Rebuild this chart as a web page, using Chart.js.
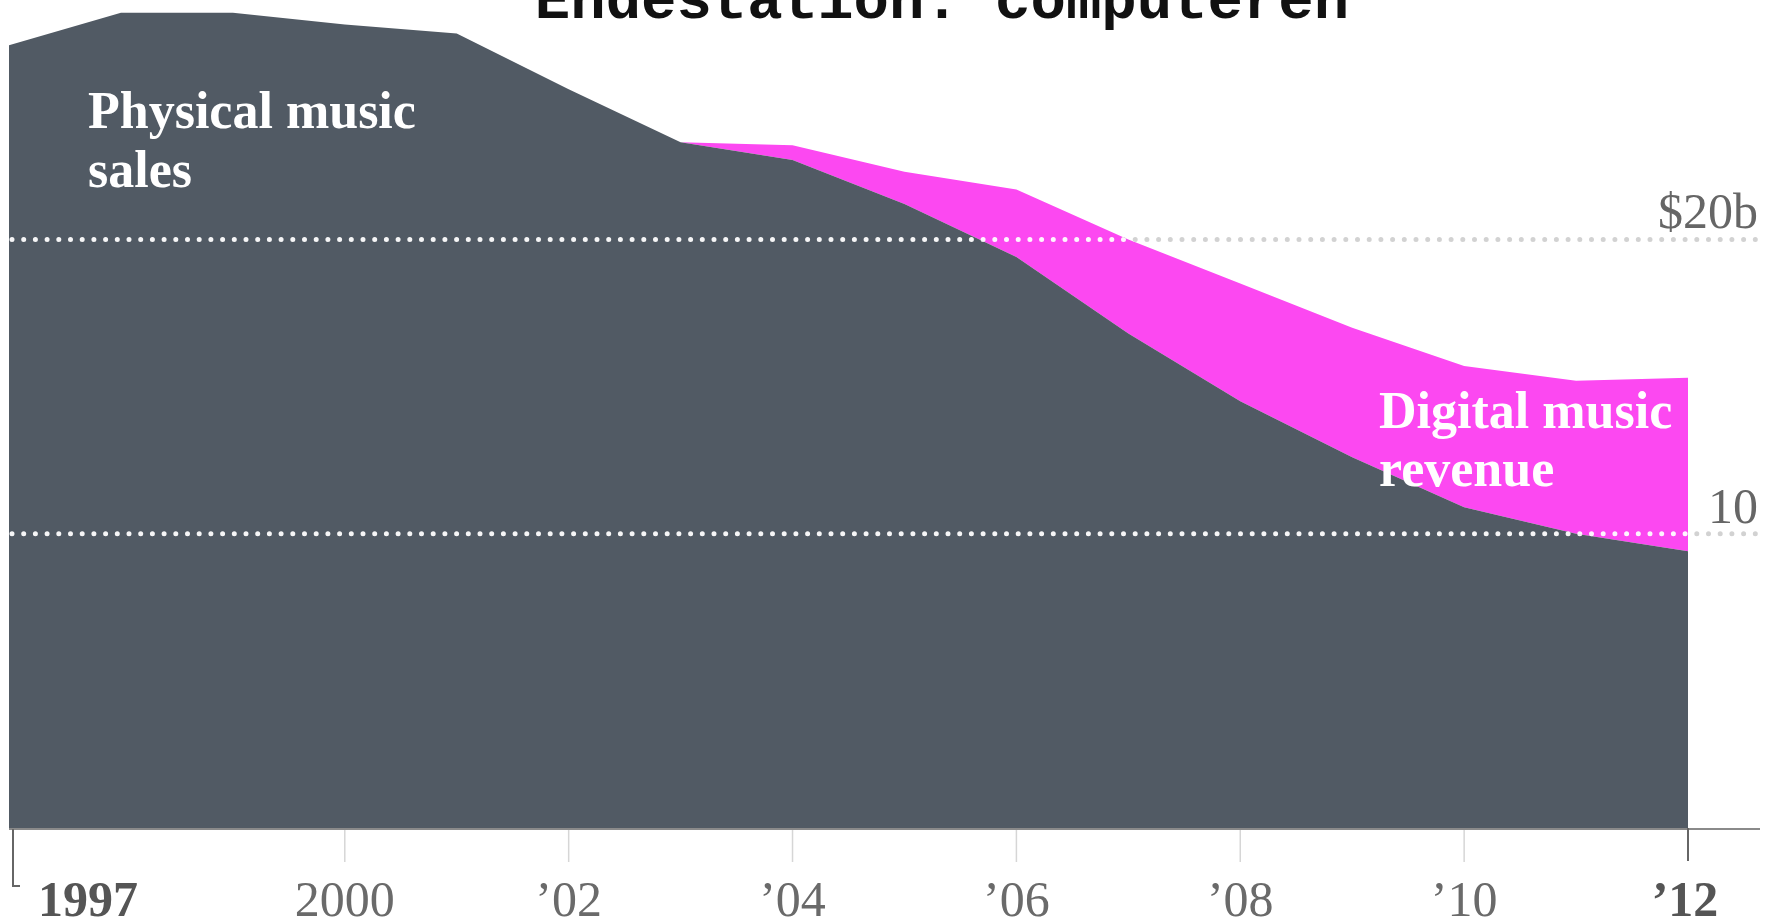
<!DOCTYPE html>
<html>
<head>
<meta charset="utf-8">
<script src="https://cdn.jsdelivr.net/npm/chart.js@4.4.1/dist/chart.umd.min.js"></script>
<style>
    html, body { margin: 0; padding: 0; background: #fff; }
</style>
</head>
<body>
<canvas id="music-chart" width="1775" height="921"></canvas>
<script>
// values in $ billions
const years = ['1997', '1998', '1999', '2000', '2001', '2002', '2003', '2004',
               '2005', '2006', '2007', '2008', '2009', '2010', '2011', '2012'];
const physicalSales = [26.6, 27.7, 27.7, 27.3, 27.0, 25.1, 23.3, 22.7,
                       21.2, 19.4, 16.8, 14.5, 12.6, 10.9, 10.0, 9.4];
const digitalRevenue = [null, null, null, null, null, null, 0, 0.5,
                        1.1, 2.3, 3.2, 4.0, 4.4, 4.8, 5.2, 5.9];

const xTickYears = ['1997', '2000', '2002', '2004', '2006', '2008', '2010', '2012'];
const xTickLabels = ['1997', '2000', '\u201902', '\u201904', '\u201906', '\u201908', '\u201910', '\u201912'];
const yGridValues = [20, 10];
const yTickLabels = ['$20b', '10'];

const serif = '"Liberation Serif", "DejaVu Serif", serif';

function dottedLine(ctx, x1, x2, y, color) {
    ctx.beginPath();
    ctx.setLineDash([0, 11.7]);
    ctx.lineCap = 'round';
    ctx.lineWidth = 5;
    ctx.strokeStyle = color;
    ctx.moveTo(x1, y);
    ctx.lineTo(x2, y);
    ctx.stroke();
}

const musicDecor = {
    id: 'musicDecor',
    afterDatasetsDraw(chart) {
        const ctx = chart.ctx;
        const area = chart.chartArea;
        const yScale = chart.scales.y;
        const xScale = chart.scales.x;
        const gridRight = 1756;

        // white dots on top of the areas, grey dots where the page is blank
        ctx.save();
        ctx.globalCompositeOperation = 'source-atop';
        yGridValues.forEach(v => dottedLine(ctx, area.left + 3, gridRight, yScale.getPixelForValue(v), 'rgba(255,255,255,0.95)'));
        ctx.globalCompositeOperation = 'destination-over';
        yGridValues.forEach(v => dottedLine(ctx, area.left + 3, gridRight, yScale.getPixelForValue(v), '#d2d2d2'));
        ctx.restore();

        ctx.save();
        // y labels on the right
        ctx.font = '50px ' + serif;
        ctx.fillStyle = '#666';
        ctx.textAlign = 'right';
        ctx.textBaseline = 'alphabetic';
        yGridValues.forEach((v, i) => {
            ctx.fillText(yTickLabels[i], 1758, yScale.getPixelForValue(v) - 11);
        });

        // x axis line
        const base = yScale.getPixelForValue(0);
        ctx.beginPath();
        ctx.lineWidth = 2;
        ctx.strokeStyle = '#8a8a8a';
        ctx.moveTo(area.left, base + 1);
        ctx.lineTo(1760, base + 1);
        ctx.stroke();

        // ticks and labels
        xTickYears.forEach((yr, i) => {
            const x = xScale.getPixelForValue(years.indexOf(yr));
            const first = i === 0;
            const last = i === xTickYears.length - 1;
            ctx.beginPath();
            if (first) {
                ctx.lineWidth = 2;
                ctx.strokeStyle = '#666';
                ctx.moveTo(x + 4, base + 1);
                ctx.lineTo(x + 4, base + 58);
                ctx.lineTo(x + 11, base + 58);
            } else if (last) {
                ctx.lineWidth = 2;
                ctx.strokeStyle = '#666';
                ctx.moveTo(x, base);
                ctx.lineTo(x, base + 33);
            } else {
                ctx.lineWidth = 1.5;
                ctx.strokeStyle = '#d6d6d6';
                ctx.moveTo(x, base + 2);
                ctx.lineTo(x, base + 34);
            }
            ctx.stroke();

            ctx.font = (first || last ? 'bold ' : '') + '50px ' + serif;
            ctx.fillStyle = first || last ? '#555' : '#6a6a6a';
            ctx.textAlign = first ? 'left' : 'center';
            ctx.fillText(xTickLabels[i], first ? x + 29 : x - (last ? 3 : 0), 916);
        });
        ctx.restore();
    },
    afterDraw(chart) {
        const ctx = chart.ctx;
        ctx.save();
        // area labels
        ctx.font = 'bold 52px ' + serif;
        ctx.fillStyle = '#fff';
        ctx.textAlign = 'left';
        ctx.fillText('Physical music', 88, 128);
        ctx.fillText('sales', 88, 187);
        ctx.fillText('Digital music', 1379, 428);
        ctx.fillText('revenue', 1379, 486);

        // title, cut off at the top of the picture
        ctx.font = 'bold 59px "Liberation Mono", "DejaVu Sans Mono", monospace';
        ctx.fillStyle = '#111';
        ctx.textAlign = 'center';
        ctx.fillText('Endestation: computeren', 942, 18);
        ctx.restore();
    }
};

const ctx = document.getElementById('music-chart').getContext('2d');
new Chart(ctx, {
    type: 'line',
    data: {
        labels: years,
        datasets: [
            {
                label: 'Physical music sales',
                data: physicalSales,
                fill: 'origin',
                backgroundColor: '#515a64',
                borderColor: 'transparent',
                borderWidth: 0,
                pointRadius: 0,
                tension: 0
            },
            {
                label: 'Digital music revenue',
                data: digitalRevenue,
                fill: '-1',
                backgroundColor: '#fc48f1',
                borderColor: 'transparent',
                borderWidth: 0,
                pointRadius: 0,
                tension: 0
            }
        ]
    },
    options: {
        responsive: false,
        animation: false,
        layout: {
            padding: { left: 9, right: 87, top: 4, bottom: 93 }
        },
        plugins: {
            legend: { display: false },
            tooltip: { enabled: false }
        },
        scales: {
            x: { display: false, offset: false },
            y: { display: false, stacked: true, min: 0, max: 28 }
        }
    },
    plugins: [musicDecor]
});
</script>
</body>
</html>
